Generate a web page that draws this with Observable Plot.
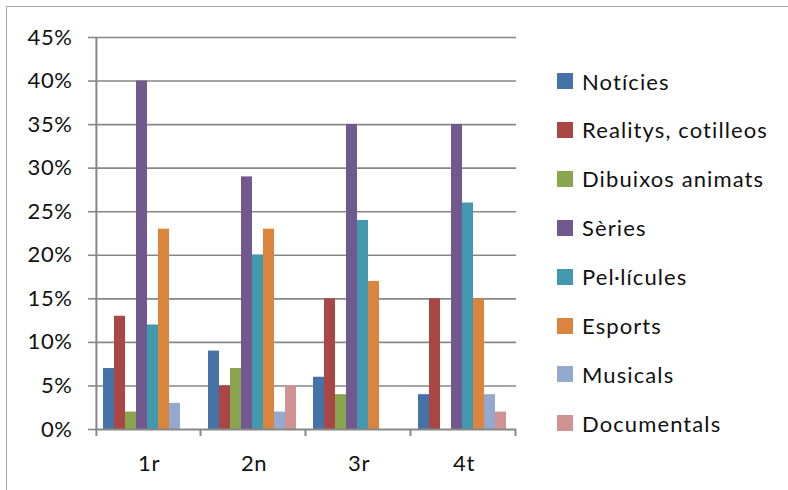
<!DOCTYPE html>
<html><head><meta charset="utf-8">
<script src="https://cdn.jsdelivr.net/npm/d3@7"></script>
<script src="https://cdn.jsdelivr.net/npm/@observablehq/plot@0.6"></script>
<style>
body{margin:0;background:#fff;font-family:Lato,sans-serif}
#wrap{position:relative;width:788px;height:490px;overflow:hidden;background:#fff}
#border{position:absolute;left:6px;top:6px;width:820px;height:520px;border:1.5px solid #a6a6a6}
#chart{position:absolute;left:0;top:0}
.item{position:absolute;left:557px;display:flex;align-items:center;white-space:nowrap;font-size:22px;color:#111;letter-spacing:1.1px}
.sw{width:16px;height:16px;margin-right:9px;flex:none}
</style></head><body><div id="wrap"><div id="border"></div><div id="chart"></div></div>
<script>
const groups = ["1r", "2n", "3r", "4t"];
const series = ["Notícies", "Realitys, cotilleos", "Dibuixos animats", "Sèries", "Pel·lícules", "Esports", "Musicals", "Documentals"];
const colors = ["#4572A7", "#AA4643", "#89A54E", "#71588F", "#4198AF", "#DB843D", "#93A9CF", "#D19392"];
const values1r = [7, 13, 2, 40, 12, 23, 3, 0];
const values2n = [9, 5, 7, 29, 20, 23, 2, 5];
const values3r = [6, 15, 4, 35, 24, 17, 0, 0];
const values4t = [4, 15, 0, 35, 26, 15, 4, 2];
const yTicks = [0, 5, 10, 15, 20, 25, 30, 35, 40, 45];

const allValues = [values1r, values2n, values3r, values4t];
const data = [];
groups.forEach((g, gi) => series.forEach((s, si) => data.push({group: g, series: s, value: allValues[gi][si]})));

const W = 788, H = 490, mL = 95, mR = 271, mT = 37, mB = 61;
const padOuter = 0.71, align = 0.44;
const facetW = (W - mL - mR) / groups.length;
const step = facetW / (series.length + 2 * padOuter);
const leftEdge = step * (0.5 + 2 * padOuter * align);
const rightEdge = step * (0.5 + 2 * padOuter * (1 - align));
const grid = "#878787";
const font = "Lato, sans-serif";

const chart = Plot.plot({
  width: W, height: H,
  marginLeft: mL, marginRight: mR, marginTop: mT, marginBottom: mB,
  style: {fontFamily: font, fontSize: "22px", color: "#111", background: "transparent", letterSpacing: "0.6px"},
  fx: {domain: groups, padding: 0, label: null},
  x: {domain: series, paddingInner: 0, paddingOuter: padOuter, align, axis: null},
  y: {domain: [0, 45], axis: null},
  color: {domain: series, range: colors},
  marks: [
    Plot.ruleY(yTicks.filter(d => d > 0), {stroke: grid, strokeWidth: 1.6}),
    Plot.barY(data, {fx: "group", x: "series", y: "value", fill: "series"}),
    Plot.ruleY([0], {stroke: grid, strokeWidth: 2}),
    Plot.ruleX([groups[0]], {fx: d => d, x: () => series[0], dx: -leftEdge, insetBottom: -7, stroke: grid, strokeWidth: 2}),
    Plot.ruleX(groups, {fx: d => d, x: () => series[series.length - 1], dx: rightEdge, y1: () => 0, y2: () => 0, insetBottom: -7, stroke: grid, strokeWidth: 2}),
    Plot.axisY({ticks: yTicks, tickFormat: d => d + "%", tickSize: 8, tickPadding: 16, stroke: grid, strokeWidth: 1.6, fontSize: 22, label: null}),
    Plot.axisFx({anchor: "bottom", tickSize: 0, tickPadding: 26, fontSize: 22, label: null})
  ]
});
document.getElementById("chart").appendChild(chart);

const wrap = document.getElementById("wrap");
const rowStart = 81, rowGap = 48.9;
series.forEach((s, i) => {
  const item = document.createElement("div");
  item.className = "item";
  item.style.top = (rowStart + i * rowGap - 14) + "px";
  item.style.height = "28px";
  const sw = document.createElement("div");
  sw.className = "sw";
  sw.style.background = colors[i];
  const t = document.createElement("span");
  t.textContent = s;
  item.appendChild(sw);
  item.appendChild(t);
  wrap.appendChild(item);
});
</script></body></html>
